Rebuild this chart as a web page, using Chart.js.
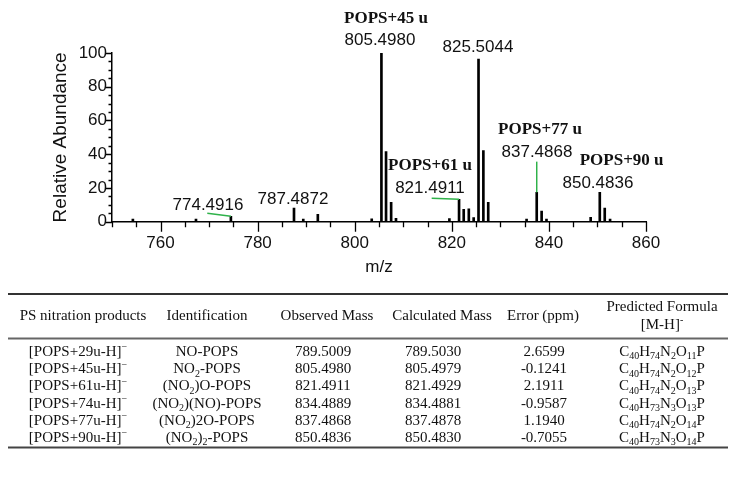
<!DOCTYPE html>
<html><head><meta charset="utf-8">
<script src="https://cdn.jsdelivr.net/npm/chart.js@4.4.1/dist/chart.umd.min.js"></script>
<style>html,body{margin:0;padding:0;background:#fff;}canvas{display:block;}</style>
</head><body>
<canvas id="c" width="737" height="477"></canvas>
<script>
// ---- spectrum data ----
const mz = [754.3, 767.3, 774.49, 787.49, 789.4, 792.4, 803.5, 805.50, 806.45, 807.5, 808.5,
            819.5, 821.49, 822.45, 823.5, 824.5, 825.50, 826.5, 827.5, 835.4, 837.49, 838.5,
            839.5, 848.6, 850.48, 851.5, 852.6];
const abundance = [1.6, 1.5, 3.2, 8.0, 1.5, 4.4, 1.7, 100, 41.5, 11.5, 2.0,
                   1.8, 13.3, 7.3, 7.7, 2.4, 96.4, 42.2, 11.5, 1.5, 17.4, 6.3,
                   1.5, 2.6, 17.4, 8.0, 1.5];
const peakLabels = ['774.4916', '787.4872', '805.4980', '821.4911', '825.5044', '837.4868', '850.4836'];
const ionLabels = ['POPS+45 u', 'POPS+61 u', 'POPS+77 u', 'POPS+90 u'];
const xTitle = 'm/z';
const yTitle = 'Relative Abundance';

// ---- table data ----
const tableHeaders = ['PS nitration products', 'Identification', 'Observed Mass', 'Calculated Mass', 'Error (ppm)'];
const formulaHeader = ['Predicted Formula', '[M-H]^{-}'];
const products = ['[POPS+29u-H]^{−}', '[POPS+45u-H]^{−}', '[POPS+61u-H]^{−}', '[POPS+74u-H]^{−}', '[POPS+77u-H]^{−}', '[POPS+90u-H]^{−}'];
const identification = ['NO-POPS', 'NO_{2}-POPS', '(NO_{2})O-POPS', '(NO_{2})(NO)-POPS', '(NO_{2})2O-POPS', '(NO_{2})_{2}-POPS'];
const observedMass = ['789.5009', '805.4980', '821.4911', '834.4889', '837.4868', '850.4836'];
const calculatedMass = ['789.5030', '805.4979', '821.4929', '834.4881', '837.4878', '850.4830'];
const errorPpm = ['2.6599', '-0.1241', '2.1911', '-0.9587', '1.1940', '-0.7055'];
const formulas = ['C_{40}H_{74}N_{2}O_{11}P', 'C_{40}H_{74}N_{2}O_{12}P', 'C_{40}H_{74}N_{2}O_{13}P',
                  'C_{40}H_{73}N_{3}O_{13}P', 'C_{40}H_{74}N_{2}O_{14}P', 'C_{40}H_{73}N_{3}O_{14}P'];

const SANS = '"Liberation Sans", Arial, sans-serif';
const SERIF = '"Liberation Serif", "Times New Roman", serif';

// label anchor positions (data units) for annotations
const peakLabelPos = [[769.77, 9.6], [787.28, 13.5], [805.2, 107.3], [815.5, 20.0], [825.39, 103.1], [837.54, 41.4], [850.1, 23.0]];
const ionLabelPos = [[806.44, 120.4], [815.5, 33.1], [838.16, 54.5], [854.98, 36.0]];
const leaderStart = {0: [769.63, 5.0], 3: [815.85, 13.9], 5: [837.49, 35.6]};

function parseRich(str) {
  const segs = []; let i = 0; const re = /([_^])\{([^}]*)\}/g; let m;
  while ((m = re.exec(str))) {
    if (m.index > i) segs.push({t: str.slice(i, m.index), k: 0});
    segs.push({t: m[2], k: m[1] === '_' ? 1 : 2});
    i = re.lastIndex;
  }
  if (i < str.length) segs.push({t: str.slice(i), k: 0});
  return segs;
}
function drawRich(ctx, str, cx, by, size) {
  const segs = parseRich(str); const small = Math.round(size * 0.68);
  let w = 0;
  segs.forEach(s => { ctx.font = (s.k ? small : size) + 'px ' + SERIF; s.w = ctx.measureText(s.t).width; w += s.w; });
  let x = cx - w / 2;
  ctx.textAlign = 'left'; ctx.textBaseline = 'alphabetic';
  segs.forEach(s => {
    ctx.font = (s.k ? small : size) + 'px ' + SERIF;
    const dy = s.k === 1 ? size * 0.22 : (s.k === 2 ? -size * 0.38 : 0);
    ctx.fillText(s.t, x, by + dy); x += s.w;
  });
}

function peakIndex(label) {
  const v = parseFloat(label); let best = 0;
  mz.forEach((m, i) => { if (Math.abs(m - v) < Math.abs(mz[best] - v)) best = i; });
  return best;
}

const decor = {
  id: 'decor',
  afterDatasetsDraw(chart) {
    const {ctx, scales: {x, y}} = chart;
    ctx.save();
    ctx.strokeStyle = '#000'; ctx.lineWidth = 1.3;
    ctx.beginPath();
    for (let v = x.min; v <= x.max + 0.01; v += 5) {
      const px = Math.round(x.getPixelForValue(v)) + 0.5;
      const len = v % 20 === 0 ? 10 : 5.5;
      ctx.moveTo(px, x.top); ctx.lineTo(px, x.top + len);
    }
    for (let v = y.min; v <= y.max + 0.01; v += 5) {
      const py = Math.round(y.getPixelForValue(v)) + 0.5;
      const len = v % 20 === 0 ? 6 : 3.5;
      ctx.moveTo(y.right - len, py); ctx.lineTo(y.right, py);
    }
    ctx.stroke();

    // green leader lines
    ctx.strokeStyle = '#2fb24a'; ctx.lineWidth = 1.5;
    Object.keys(leaderStart).forEach(k => {
      const s = leaderStart[k]; const pi = peakIndex(peakLabels[k]);
      ctx.beginPath();
      ctx.moveTo(x.getPixelForValue(s[0]), y.getPixelForValue(s[1]));
      ctx.lineTo(x.getPixelForValue(mz[pi]), y.getPixelForValue(abundance[pi]));
      ctx.stroke();
    });

    // peak labels
    ctx.fillStyle = '#111'; ctx.textAlign = 'center'; ctx.textBaseline = 'middle';
    ctx.font = '17px ' + SANS;
    peakLabels.forEach((t, i) => {
      ctx.fillText(t, x.getPixelForValue(peakLabelPos[i][0]), y.getPixelForValue(peakLabelPos[i][1]));
    });
    ctx.font = 'bold 17px ' + SERIF;
    ionLabels.forEach((t, i) => {
      ctx.fillText(t, x.getPixelForValue(ionLabelPos[i][0]), y.getPixelForValue(ionLabelPos[i][1]));
    });
    ctx.restore();
  },
  afterDraw(chart) {
    const ctx = chart.ctx;
    ctx.save();
    const L = 8, R = 728;
    const hline = (yy, col) => { ctx.strokeStyle = col; ctx.lineWidth = 2; ctx.beginPath(); ctx.moveTo(L, yy); ctx.lineTo(R, yy); ctx.stroke(); };
    hline(294, '#333'); hline(338.5, '#666'); hline(447.5, '#444');
    ctx.fillStyle = '#111';
    const headCols = [83, 207, 327, 442, 543, 662];
    const dataCols = [78, 207, 323, 433, 544, 662];
    const fs = 15;
    tableHeaders.forEach((h, i) => drawRich(ctx, h, headCols[i], 320, fs));
    drawRich(ctx, formulaHeader[0], headCols[5], 311, fs);
    drawRich(ctx, formulaHeader[1], headCols[5], 329, fs);
    const columns = [products, identification, observedMass, calculatedMass, errorPpm, formulas];
    for (let r = 0; r < products.length; r++) {
      const by = 356 + r * 17.2;
      columns.forEach((col, c) => drawRich(ctx, col[r], dataCols[c], by, fs));
    }
    ctx.restore();
  }
};

new Chart(document.getElementById('c'), {
  type: 'bar',
  data: {datasets: [{data: mz.map((m, i) => ({x: m, y: abundance[i]})), backgroundColor: '#000', borderWidth: 0, barThickness: 2}]},
  options: {
    responsive: false, animation: false, devicePixelRatio: 1,
    layout: {padding: {left: 48, right: 91, top: 53, bottom: 197}},
    plugins: {legend: {display: false}, tooltip: {enabled: false}},
    scales: {
      x: {
        type: 'linear', min: 750, max: 860, offset: false,
        grid: {display: true, drawOnChartArea: false, drawTicks: false, offset: false},
        border: {display: true, color: '#000', width: 1.5},
        afterBuildTicks: s => { s.ticks = s.ticks.filter(t => t.value % 20 === 0); },
        ticks: {stepSize: 20, padding: 11, color: '#111', font: {family: SANS, size: 17}, maxRotation: 0, autoSkip: false},
        title: {display: true, text: xTitle, color: '#111', font: {family: SANS, size: 17}, padding: {top: 0, bottom: 2}},
        afterFit: s => { s.height = 58.3; }
      },
      y: {
        min: 0, max: 100,
        grid: {display: true, drawOnChartArea: false, drawTicks: false},
        border: {display: true, color: '#000', width: 1.5},
        ticks: {stepSize: 20, padding: 5, color: '#111', font: {family: SANS, size: 17}},
        title: {display: true, text: yTitle, color: '#111', font: {family: SANS, size: 19}, padding: {top: 1, bottom: 0}},
        afterFit: s => { s.width = 64; }
      }
    }
  },
  plugins: [decor]
});
</script>
</body></html>
